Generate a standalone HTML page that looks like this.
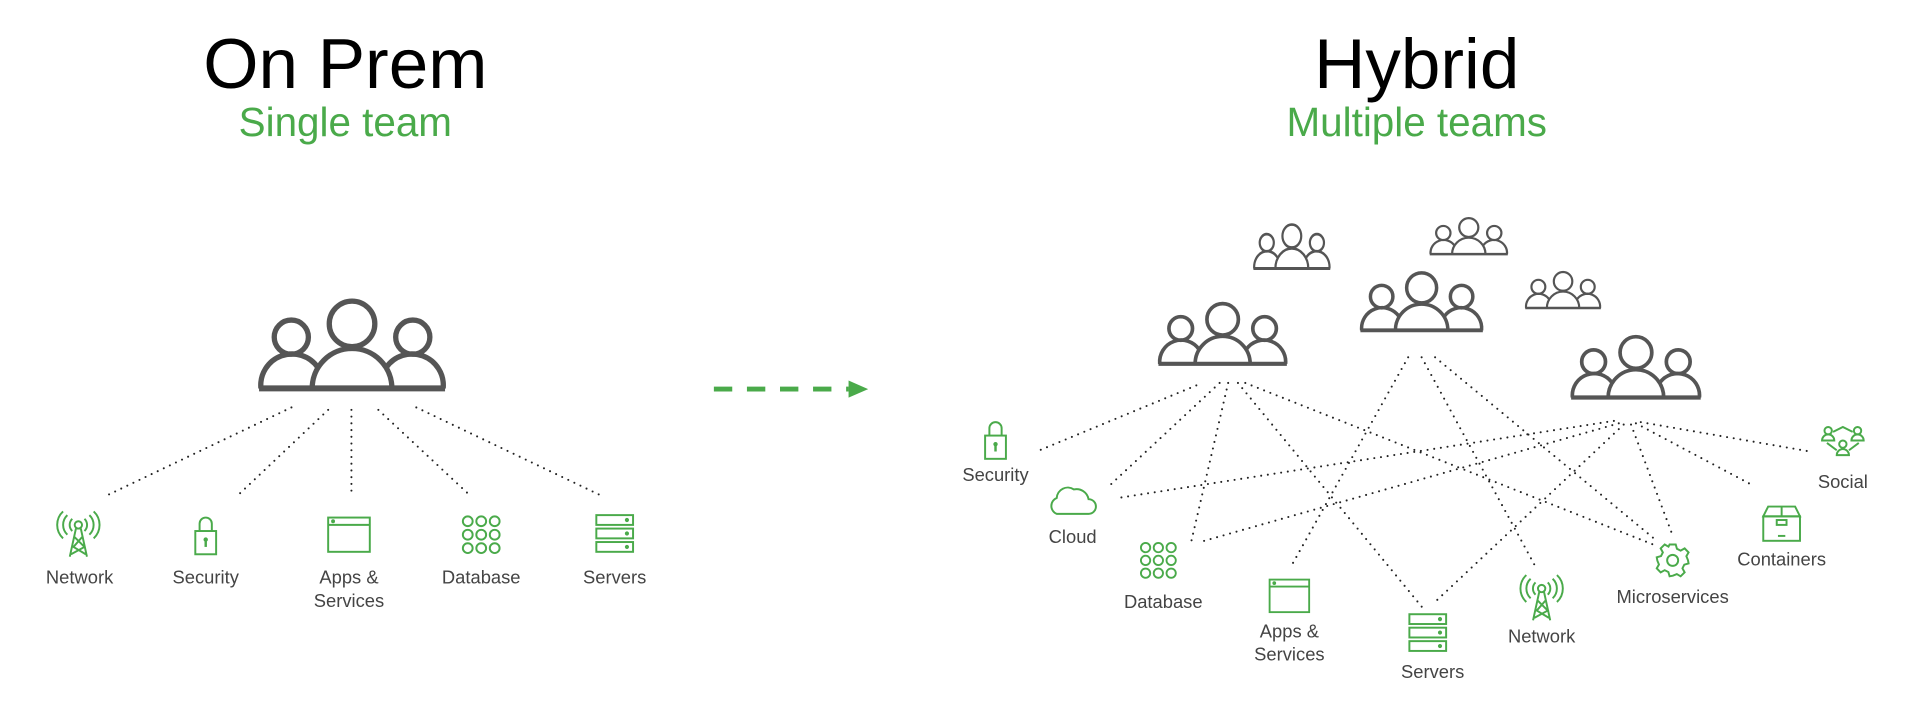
<!DOCTYPE html>
<html><head><meta charset="utf-8"><style>
html,body{margin:0;padding:0;background:#fff;}
svg{display:block}
text{font-family:"Liberation Sans",sans-serif}
</style></head><body>
<svg width="1920" height="717" viewBox="0 0 1568 586" preserveAspectRatio="none" xmlns="http://www.w3.org/2000/svg">
<defs>
<g id="team" fill="none" stroke="#555" stroke-width="2.8" stroke-linecap="butt">
  <circle cx="50" cy="14" r="12"/>
  <path d="M29 48 A21 21 0 0 1 71 48"/>
  <circle cx="18" cy="21" r="9"/>
  <path d="M2 48 A16.5 16.5 0 0 1 32 37"/>
  <circle cx="82" cy="21" r="9"/>
  <path d="M98 48 A16.5 16.5 0 0 0 68 37"/>
  <path d="M1 48 H99" stroke-width="3.2"/>
</g>
<g id="network" fill="none" stroke="#4aaa4a" stroke-width="1.6">
  <circle cx="0" cy="-8" r="3"/>
  <path d="M-5 -13 A7 7 0 0 0 -5 -3 M5 -13 A7 7 0 0 1 5 -3 M-9 -16 A11 11 0 0 0 -9 0 M9 -16 A11 11 0 0 1 9 0 M-12.5 -19 A15 15 0 0 0 -12.5 3 M12.5 -19 A15 15 0 0 1 12.5 3"/>
  <path d="M-2 -5 L-7 18 M2 -5 L7 18 M-3 2 L5 10 L-6 16 M3 2 L-4 10 L6 16" />
</g>
<g id="lock" fill="none" stroke="#4aaa4a" stroke-width="1.6">
  <rect x="-8.5" y="-4" width="17" height="19"/>
  <path d="M-5 -4 V-10 A5 5 0 0 1 5 -10 V-4"/>
  <path d="M0 3 V9" stroke-width="2"/>
  <circle cx="0" cy="3" r="1" fill="#4aaa4a"/>
</g>
<g id="apps" fill="none" stroke="#4aaa4a" stroke-width="1.6">
  <rect x="-17" y="-14" width="34" height="28"/>
  <path d="M-17 -8 H17"/>
  <circle cx="-13" cy="-11" r="0.8" fill="#4aaa4a"/>
</g>
<g id="db" fill="none" stroke="#4aaa4a" stroke-width="1.6">
  <circle cx="-11" cy="-11" r="4"/><circle cx="0" cy="-11" r="4"/><circle cx="11" cy="-11" r="4"/>
  <circle cx="-11" cy="0" r="4"/><circle cx="0" cy="0" r="4"/><circle cx="11" cy="0" r="4"/>
  <circle cx="-11" cy="11" r="4"/><circle cx="0" cy="11" r="4"/><circle cx="11" cy="11" r="4"/>
</g>
<g id="srv" fill="none" stroke="#4aaa4a" stroke-width="1.6">
  <rect x="-15" y="-15" width="30" height="8"/>
  <rect x="-15" y="-4" width="30" height="8"/>
  <rect x="-15" y="7" width="30" height="8"/>
  <circle cx="10" cy="-11" r="0.9" fill="#4aaa4a"/><circle cx="10" cy="0" r="0.9" fill="#4aaa4a"/><circle cx="10" cy="11" r="0.9" fill="#4aaa4a"/>
</g>
<g id="cloud" fill="none" stroke="#4aaa4a" stroke-width="1.6">
  <path d="M-13 10 A7 7 0 0 1 -13 -3 A9 9 0 0 1 1 -10 A10 10 0 0 1 13 -2 A6 6 0 0 1 13 10 Z"/>
</g>
<g id="gear" fill="none" stroke="#4aaa4a" stroke-width="1.6">
  <path d="M-2.5 -13 H2.5 L3.5 -9.5 L6.5 -8 L9.8 -9.8 L13 -6.5 L11.2 -3.4 L12.5 -0.2 L13 2.5 L9.5 3.5 L8 6.5 L9.8 9.8 L6.5 13 L3.4 11.2 L0.2 12.5 L-2.5 13 L-3.5 9.5 L-6.5 8 L-9.8 9.8 L-13 6.5 L-11.2 3.4 L-12.5 0.2 L-13 -2.5 L-9.5 -3.5 L-8 -6.5 L-9.8 -9.8 L-6.5 -13 L-3.4 -11.2 Z"/>
  <circle r="4.5"/>
</g>
<g id="box" fill="none" stroke="#4aaa4a" stroke-width="1.6">
  <path d="M-15 -6 L-11 -14 H11 L15 -6 Z M0 -14 V-6"/>
  <rect x="-15" y="-6" width="30" height="20"/>
  <rect x="-4" y="-3" width="8" height="4"/>
  <path d="M-3 10 H3"/>
</g>
<g id="social" fill="none" stroke="#4aaa4a" stroke-width="1.6">
  <circle cx="-12" cy="-9" r="3"/><path d="M-17 -1 A5 5 0 0 1 -7 -1 Z"/>
  <circle cx="12" cy="-9" r="3"/><path d="M7 -1 A5 5 0 0 1 17 -1 Z"/>
  <circle cx="0" cy="2" r="3"/><path d="M-5 11 A5 5 0 0 1 5 11 Z"/>
  <path d="M-8 -8 L0 -12 L8 -8 M-13 1 L-5 7 M13 1 L5 7"/>
</g>
</defs>

<!-- titles -->
<text x="282" y="72" font-size="58" text-anchor="middle" fill="#000">On Prem</text>
<text x="282" y="111" font-size="33" text-anchor="middle" fill="#4aaa4a">Single team</text>
<text x="1157" y="72" font-size="58" text-anchor="middle" fill="#000">Hybrid</text>
<text x="1157" y="111" font-size="33" text-anchor="middle" fill="#4aaa4a">Multiple teams</text>

<!-- arrow -->
<path d="M583 318 H693" stroke="#4aaa4a" stroke-width="4" stroke-dasharray="15 12" fill="none"/>
<path d="M693 311 L709 318 L693 325 Z" fill="#4aaa4a"/>

<!-- dotted lines -->
<g stroke="#222" stroke-width="1.7" stroke-linecap="round" stroke-dasharray="0 5.5" fill="none">
  <path d="M238 333 L85 406"/>
  <path d="M268 335 L193 406"/>
  <path d="M287 335 L287 406"/>
  <path d="M309 335 L385 406"/>
  <path d="M340 333 L493 406"/>
  <!-- team A -->
  <path d="M977 315 L849 368"/>
  <path d="M996 313 L906 397"/>
  <path d="M1003 313 L973 442"/>
  <path d="M1011 313 L1162 497"/>
  <path d="M1017 313 L1350 445"/>
  <!-- team B -->
  <path d="M1150 292 L1056 460"/>
  <path d="M1161 292 L1255 465"/>
  <path d="M1172 292 L1353 442"/>
  <!-- team C -->
  <path d="M1318 344 L913 407"/>
  <path d="M1322 346 L980 443"/>
  <path d="M1326 347 L1173 491"/>
  <path d="M1332 347 L1365 435"/>
  <path d="M1336 346 L1432 397"/>
  <path d="M1340 345 L1478 369"/>
</g>

<!-- teams -->
<use href="#team" transform="translate(210,243) scale(1.55)"/>
<use href="#team" transform="translate(945,246) scale(1.07)"/>
<use href="#team" transform="translate(1110,221) scale(1.02)"/>
<use href="#team" transform="translate(1282,273) scale(1.08)"/>
<use href="#team" transform="translate(1023,182) scale(0.64,0.78)"/>
<use href="#team" transform="translate(1167,177) scale(0.65,0.64)"/>
<use href="#team" transform="translate(1245,221) scale(0.63,0.64)"/>

<!-- left icons -->
<use href="#network" transform="translate(64,437)"/>
<use href="#lock" transform="translate(168,438)"/>
<use href="#apps" transform="translate(285,437)"/>
<use href="#db" transform="translate(393,437)"/>
<use href="#srv" transform="translate(502,436)"/>
<g font-size="15" fill="#444" text-anchor="middle">
  <text x="65" y="477">Network</text>
  <text x="168" y="477">Security</text>
  <text x="285" y="477">Apps &amp;</text>
  <text x="285" y="496">Services</text>
  <text x="393" y="477">Database</text>
  <text x="502" y="477">Servers</text>
</g>

<!-- right icons -->
<use href="#lock" transform="translate(813,360) scale(1.0)"/>
<use href="#cloud" transform="translate(876,410)"/>
<use href="#db" transform="translate(946,458) scale(0.95)"/>
<use href="#apps" transform="translate(1053,487) scale(0.95)"/>
<use href="#srv" transform="translate(1166,517)"/>
<use href="#network" transform="translate(1259,489)"/>
<use href="#gear" transform="translate(1366,458)"/>
<use href="#box" transform="translate(1455,428)"/>
<use href="#social" transform="translate(1505,361)"/>
<g font-size="15" fill="#444" text-anchor="middle">
  <text x="813" y="393">Security</text>
  <text x="876" y="444">Cloud</text>
  <text x="950" y="497">Database</text>
  <text x="1053" y="521">Apps &amp;</text>
  <text x="1053" y="540">Services</text>
  <text x="1170" y="554">Servers</text>
  <text x="1259" y="525">Network</text>
  <text x="1366" y="493">Microservices</text>
  <text x="1455" y="462">Containers</text>
  <text x="1505" y="399">Social</text>
</g>
</svg>
</body></html>
